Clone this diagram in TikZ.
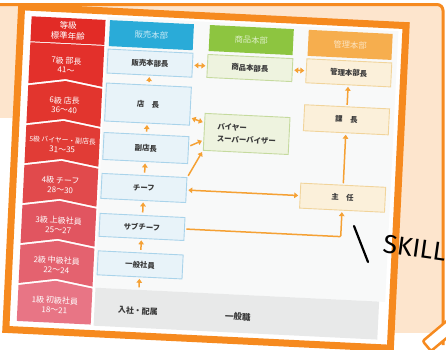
\documentclass[tikz,border=0pt]{standalone}
\usepackage{fontspec}
\newfontfamily\jp{Noto Sans CJK JP}
\newfontfamily\hand{Fira Sans}
\usetikzlibrary{arrows.meta}

\definecolor{paper}{HTML}{FDE5CD}
\definecolor{frame}{HTML}{F68A1F}
\definecolor{flowc}{HTML}{F5A134}
\definecolor{ink}{HTML}{3A3A3A}
\definecolor{basegray}{HTML}{E8E9E9}
\definecolor{chartbg}{HTML}{F8F9F9}
\definecolor{rankhead}{HTML}{E22B26}
\definecolor{rank7}{HTML}{E3302B}
\definecolor{rank6}{HTML}{E2352E}
\definecolor{rank5}{HTML}{E13C36}
\definecolor{rank4}{HTML}{E14A4C}
\definecolor{rank3}{HTML}{E15560}
\definecolor{rank2}{HTML}{E4626F}
\definecolor{rank1}{HTML}{E87585}
\definecolor{salesc}{HTML}{2AABD8}
\definecolor{salestext}{HTML}{C4E8F5}
\definecolor{salesfill}{HTML}{E8F3F9}
\definecolor{salesline}{HTML}{A9D3EA}
\definecolor{goodsc}{HTML}{8DC540}
\definecolor{goodstext}{HTML}{DCEEC4}
\definecolor{goodsfill}{HTML}{EEF3DF}
\definecolor{goodsline}{HTML}{C5DA9E}
\definecolor{adminc}{HTML}{F6AE4E}
\definecolor{admintext}{HTML}{FCE3BE}
\definecolor{adminfill}{HTML}{FBF0DA}
\definecolor{adminline}{HTML}{F1D49B}

\begin{document}
\begin{tikzpicture}[x=1pt, y=-1pt,
  box/.style={draw, line width=0.9pt, minimum width=85pt, text=ink,
    font=\jp\bfseries\fontsize{7.4}{9}\selectfont},
  sales/.style={box, draw=salesline, fill=salesfill},
  goods/.style={box, draw=goodsline, fill=goodsfill},
  admin/.style={box, draw=adminline, fill=adminfill},
  head/.style={minimum width=84pt, minimum height=26pt,
    font=\jp\fontsize{8.3}{10}\selectfont},
  rank/.style={text=white, align=center, inner sep=0pt},
  flow/.style={draw=flowc, line width=1.5pt, shorten <=1.5pt, shorten >=1.5pt,
    -{Triangle[length=4pt,width=5.5pt]}},
  both/.style={flow, {Triangle[length=4pt,width=5.5pt]}-{Triangle[length=4pt,width=5.5pt]}},
  up/.style={flow, shorten <=2.5pt}]
\useasboundingbox (0,0) rectangle (446,349);
\fill[white] (0,0) rectangle (446,349);
% card behind
\fill[paper] (-10,4.5) rectangle (443,333);
\draw[frame, line width=3pt, rounded corners=6pt] (-10,4.5) -- (443,4.5) -- (443,345);
\fill[white] (-1,118) rectangle (12,349);

\begin{scope}[rotate around={-2.8:(206,177)}, transform shape]
\draw[frame, line width=7pt, fill=white] (13.5,16) rectangle (398.5,339);
\fill[chartbg] (100,22) rectangle (391,293);

% grades
\node[rank, fill=rankhead, minimum width=74pt, minimum height=25pt,
  font=\jp\fontsize{8.5}{10.5}\selectfont] (r0) at (61,37.5) {等級\\標準年齢};
\fill[rank7] (24,51) -- (98,51) -- (98,92) -- (61,86) -- (24,92) -- cycle;
\foreach \k/\c in {1/rank6,2/rank5,3/rank4,4/rank3,5/rank2}
  \fill[\c] (24,54+40*\k) -- (61,48+40*\k) -- (98,54+40*\k) -- (98,92+40*\k)
    -- (61,86+40*\k) -- (24,92+40*\k) -- cycle;
\fill[rank1] (24,294) -- (61,288) -- (98,294) -- (98,330) -- (24,330) -- cycle;
\foreach \n/\pos/\age/\sz in {7/部長/41～/8, 6/店長/36～40/8, 5/バイヤー・副店長/31～35/6.8,
    4/チーフ/28～30/8, 3/上級社員/25～27/8, 2/中級社員/22～24/8, 1/初級社員/18～21/8}
  \node[rank, font=\jp\fontsize{\sz}{9.5}\selectfont] (r\n) at (61,352-40*\n)
    {{\n}級 \pos\\{\fontsize{8}{9.5}\selectfont\age}};

% sales
\node[head, fill=salesc, text=salestext] (h1) at (144.5,38) {販売本部};
\node[sales, minimum height=24pt] (s1) at (144.5,66) {販売本部長};
\node[sales, minimum height=38pt] (s2) at (144.5,107) {店　長};
\node[sales, minimum height=27pt] (s3) at (144.5,151) {副店長};
\node[sales, minimum height=25pt] (s4) at (144.5,191) {チーフ};
\node[sales, minimum height=23pt] (s5) at (144.5,230) {サブチーフ};
\node[sales, minimum height=24pt] (s6) at (144.5,268) {一般社員};

% goods
\node[head, fill=goodsc, text=goodstext] (h2) at (244.5,38) {商品本部};
\node[goods, minimum height=23pt] (g1) at (244.5,66) {商品本部長};
\node[goods, minimum height=37pt, text width=59pt, inner xsep=13pt, align=left,
  font=\jp\bfseries\fontsize{7.4}{12}\selectfont] (g2) at (244.5,132) {バイヤー\\スーパーバイザー};

% admin
\node[head, fill=adminc, text=admintext] (h3) at (343.5,38) {管理本部};
\node[admin, minimum height=24pt] (m1) at (343.5,66) {管理本部長};
\node[admin, minimum height=26pt] (m2) at (343.5,113) {課　長};
\node[admin, minimum height=25pt] (m3) at (343.5,191) {主　任};

% base
\node[fill=basegray, minimum width=284pt, minimum height=38pt] (base) at (243,312) {};
\node[text=ink, font=\jp\bfseries\fontsize{8}{9}\selectfont] (n1) at (144.5,314) {入社・配属};
\node[text=ink, font=\jp\bfseries\fontsize{8.5}{9}\selectfont] (n2) at (244.5,315) {一般職};

% arrows
\coordinate (e) at (144.5,293);
\draw[up] (e) -- (s6.south);
\foreach \a/\b in {s6/s5, s5/s4, s4/s3, s3/s2, s2/s1}
  \draw[up] (\a.north) -- (\b.south);
\draw[both] (s1.east) -- (g1.west);
\draw[both] (g1.east) -- (m1.west);
\draw[both] (s2.-15) -- (g2.168);
\draw[flow] (s3.5) -- (g2.191);
\draw[flow] (s4.north east) -- (g2.south west);
\draw[both] (s4.east) -- (m3.west);
\coordinate (c) at (343.5,230);
\draw[flow, rounded corners=1pt] (s5.east) -- (c) -- (m3.south);
\draw[flow] (m3.north) -- (m2.south);
\draw[flow] (m2.north) -- (m1.south);
\end{scope}

% skill note
\coordinate (t1) at (354,226);
\coordinate (t2) at (368,262);
\draw[line width=2.2pt, line cap=round] (t1) -- (t2);
\node[font=\hand\fontsize{26}{26}\selectfont, anchor=base west, rotate=-8,
  inner sep=0pt] (skill) at (382,252) {SKILL};
\node[draw=frame, fill=white, line width=2.5pt, rounded corners=2pt,
  minimum width=50pt, minimum height=13pt, rotate=40] (pen) at (446,330) {};
\end{tikzpicture}
\end{document}
